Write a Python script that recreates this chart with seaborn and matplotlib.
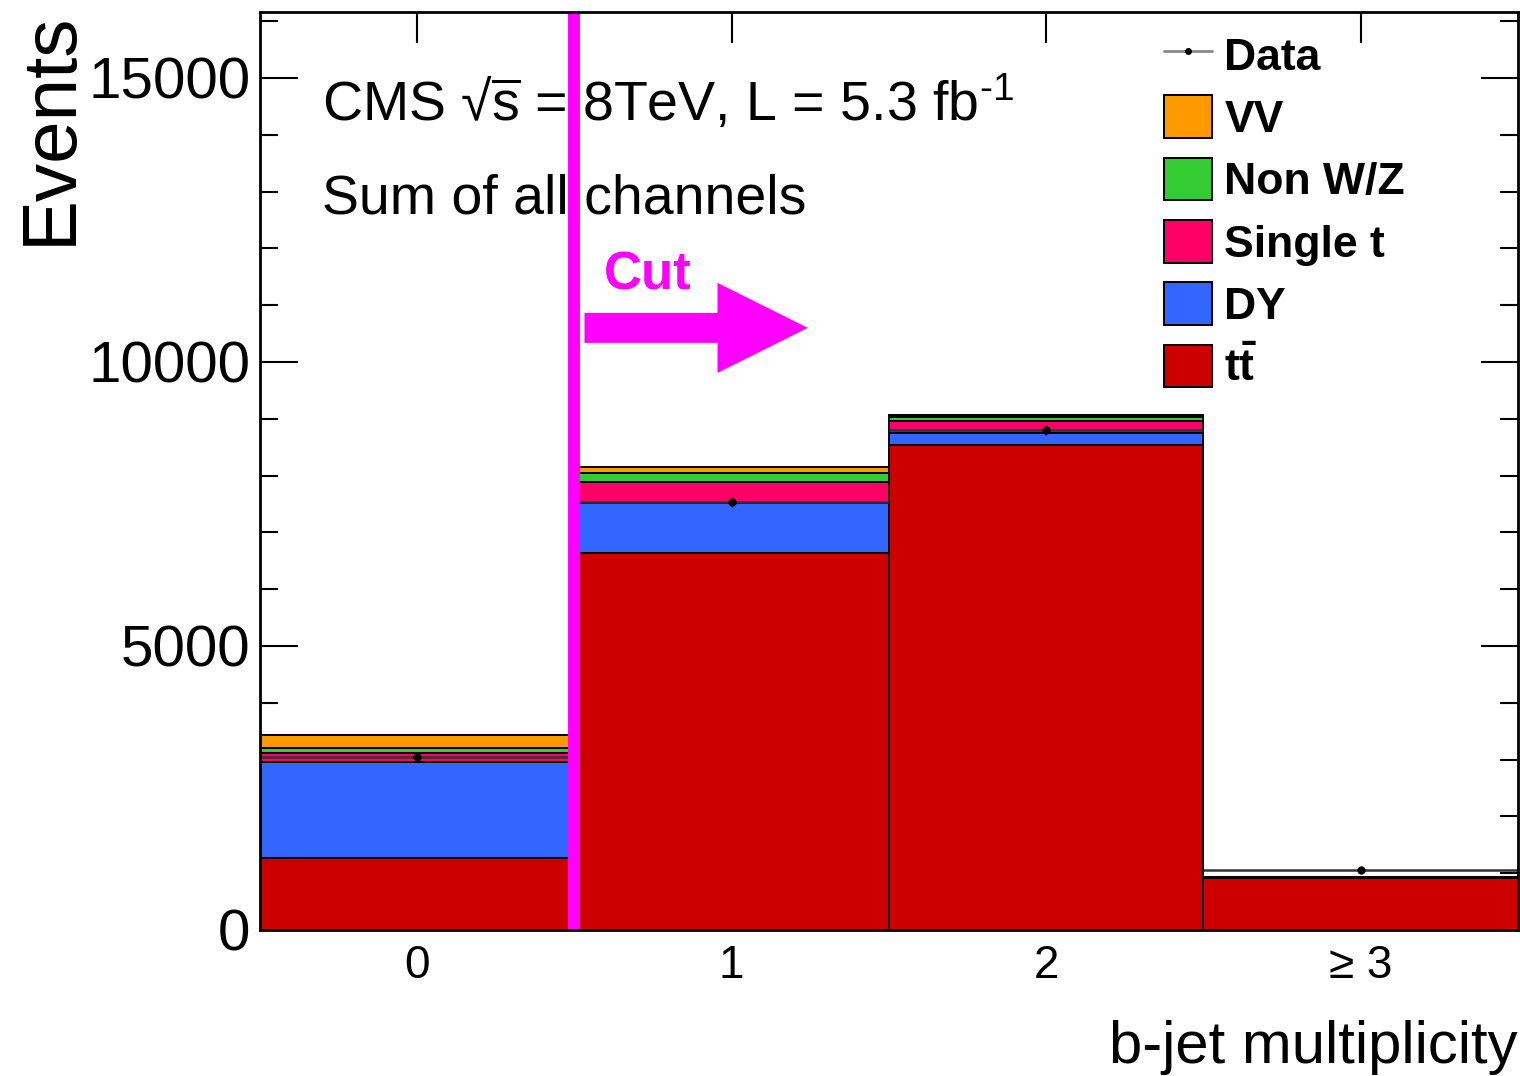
import pandas as pd
import seaborn as sns
import matplotlib
matplotlib.use("Agg")
import matplotlib.pyplot as plt
from matplotlib.patches import Patch, FancyArrow
from matplotlib.lines import Line2D
from matplotlib.ticker import MultipleLocator, FixedLocator, FixedFormatter

# b-jet multiplicity bins
bins = [0, 1, 2, 3]
bin_labels = ["0", "1", "2", "≥ 3"]

# stacked MC (events per bin)
ttbar = [1268, 6637, 8539, 915]
dy = [1690, 880, 211, 6]
single_t = [150, 370, 211, 8]
non_wz = [96, 160, 70, 3]
vv = [229, 100, 36, 2]
data = [3046, 7535, 8803, 1056]

processes = ["VV", "Non W/Z", "Single t", "DY", "tt"]
proc_labels = ["VV", "Non W/Z", "Single t", "DY", r"$\mathbf{t\bar{t}}$"]
proc_colors = ["#ff9900", "#33cc33", "#ff0066", "#3366ff", "#cc0000"]

cut_value = 0.5
magenta = "#ff00ff"

rows = []
for name, vals in zip(processes, [vv, non_wz, single_t, dy, ttbar]):
    for b, v in zip(bins, vals):
        rows.append({"bin": b, "process": name, "events": v})
df = pd.DataFrame(rows)

sns.set_theme(style="ticks")
plt.rcParams["font.family"] = ["Liberation Sans", "DejaVu Sans"]
plt.rcParams["mathtext.fontset"] = "custom"
plt.rcParams["mathtext.rm"] = "Liberation Sans"
plt.rcParams["mathtext.it"] = "Liberation Sans:italic"
plt.rcParams["mathtext.bf"] = "Liberation Sans:bold"
plt.rcParams["text.color"] = "black"
plt.rcParams["axes.labelcolor"] = "black"
plt.rcParams["xtick.color"] = "black"
plt.rcParams["ytick.color"] = "black"

fig = plt.figure(figsize=(15.2, 10.76), dpi=100)
ax = fig.add_axes([0.171, 0.1357, 0.8276, 0.8531])

sns.histplot(
    data=df, x="bin", weights="events", hue="process", hue_order=processes,
    palette=proc_colors, multiple="stack", discrete=True, shrink=1,
    edgecolor="black", linewidth=1.4, alpha=1, legend=False, ax=ax,
)

# data points with bin-width horizontal bars
ax.errorbar(bins, data, xerr=0.5, yerr=[d ** 0.5 for d in data], fmt="o",
            color="black", ecolor="#333333", elinewidth=1.8, markersize=5,
            zorder=6)

# cut line and arrow
ax.axvline(cut_value, color=magenta, lw=8.6, zorder=10)
ax.add_patch(FancyArrow(0.532, 10600, 0.71, 0, width=528, head_width=1585,
                        head_length=0.287, length_includes_head=True,
                        color=magenta, lw=0, zorder=9))
ax.text(0.732, 11268, "Cut", color=magenta, fontsize=38, fontweight="bold",
        ha="center", va="baseline", zorder=9)

ax.text(0.0493, 0.882,
        "CMS √" + r"$\overline{\mathrm{s}}$" + " = 8TeV, L = 5.3 fb" + r"$^{\mathrm{‐1}}$",
        transform=ax.transAxes, fontsize=40, va="baseline", ha="left", zorder=5)
ax.text(0.0493, 0.781, "Sum of all channels", transform=ax.transAxes,
        fontsize=40, va="baseline", ha="left", zorder=5)

ax.set_xlim(-0.5, 3.5)
ax.set_ylim(0, 16160)
ax.xaxis.set_major_locator(FixedLocator(bins))
ax.xaxis.set_major_formatter(FixedFormatter(bin_labels))
ax.yaxis.set_major_locator(MultipleLocator(5000))
ax.yaxis.set_minor_locator(MultipleLocator(1000))
ax.tick_params(which="both", direction="in", top=True, right=True, width=1.5,
               color="black", labelcolor="black")
ax.tick_params(axis="y", which="major", length=27, labelsize=42, pad=7)
ax.tick_params(axis="y", which="minor", length=13)
ax.tick_params(axis="x", which="major", length=22, labelsize=33, pad=10)
for s in ax.spines.values():
    s.set_linewidth(2)
    s.set_color("black")
    s.set_zorder(12)

ax.set_ylabel("Events", fontsize=55, loc="top")
ax.yaxis.set_label_coords(-0.138, 1.0)
ax.set_xlabel("b-jet multiplicity", fontsize=43, loc="right")
ax.xaxis.set_label_coords(1.0, -0.098)

handles = [Line2D([0], [0], color="#888888", lw=2, marker="o", markersize=4,
                  markerfacecolor="black", markeredgecolor="black")]
for c in proc_colors:
    handles.append(Patch(facecolor=c, edgecolor="black", linewidth=1.4))
ax.legend(handles, ["Data"] + proc_labels, loc="upper left",
          bbox_to_anchor=(0.719, 0.977), frameon=False, borderpad=0,
          borderaxespad=0, handlelength=1.08, handleheight=1.1,
          handletextpad=0.27, labelspacing=0.38,
          prop={"family": ["Liberation Sans", "DejaVu Sans"], "weight": "bold", "size": 32})

fig.savefig("out.png", dpi=100)
